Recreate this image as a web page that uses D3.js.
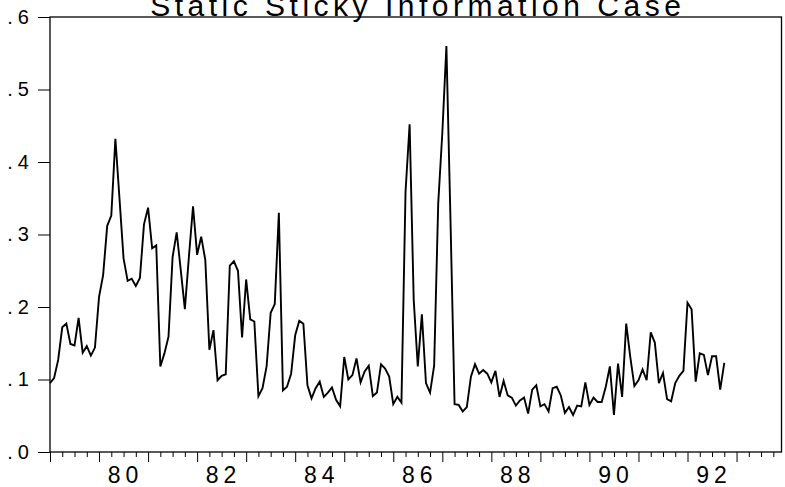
<!DOCTYPE html>
<html>
<head>
<meta charset="utf-8">
<script src="https://cdn.jsdelivr.net/npm/d3@7"></script>
<style>
    body { margin: 0; background: #fff; }
    svg text { font-family: "Liberation Sans", Arial, sans-serif; fill: #000; }
</style>
</head>
<body>
<script>
const width = 785, height = 487;
const margin = { top: 17, right: 3, bottom: 35, left: 50 };

// monthly series, 1979M01 .. 1992M10
const startYear = 1979, lastMonth = 179;
const values = [
    .095, .102, .127, .172, .177, .149, .147, .185, .137, .146, .133, .144,
    .214, .244, .312, .326, .432, .350, .267, .236, .239, .229, .240, .314,
    .337, .281, .285, .118, .136, .159, .269, .303, .251, .197, .270, .339,
    .272, .297, .265, .141, .168, .099, .105, .107, .257, .263, .250, .158,
    .238, .183, .180, .077, .088, .118, .192, .204, .330, .085, .090, .108,
    .161, .181, .177, .092, .074, .088, .097, .076, .082, .089, .072, .063,
    .131, .100, .106, .129, .096, .111, .119, .077, .082, .121, .115, .104,
    .066, .076, .068, .359, .452, .210, .118, .190, .095, .082, .119, .343,
    .440, .560, .320, .066, .065, .056, .062, .104, .121, .108, .113, .108,
    .096, .112, .076, .098, .078, .075, .064, .071, .075, .053, .086, .092,
    .063, .066, .056, .088, .090, .078, .054, .062, .051, .064, .063, .096,
    .065, .075, .069, .069, .090, .118, .051, .122, .076, .177, .131, .091,
    .099, .114, .099, .165, .151, .095, .109, .073, .070, .095, .105, .112,
    .206, .197, .097, .136, .134, .106, .132, .132, .086, .123
];
const yTicks = [0, .1, .2, .3, .4, .5, .6];
const yTickLabels = [".0", ".1", ".2", ".3", ".4", ".5", ".6"];
const xLabelYears = [1980, 1982, 1984, 1986, 1988, 1990, 1992];
const xTickLabels = ["80", "82", "84", "86", "88", "90", "92"];
const title = "Static Sticky Information Case";

const svg = d3.select("body")
    .append("svg")
    .attr("width", width)
    .attr("height", height)

const xScale = d3.scaleLinear()
    .domain([0, lastMonth])
    .range([margin.left, width - margin.right - 0.5])
const yScale = d3.scaleLinear()
    .domain([0, .6])
    .range([height - margin.bottom, margin.top])

const majorMonths = d3.range(0, lastMonth + 1, 12);
const minorMonths = d3.range(0, lastMonth + 1, 3).filter(m => m % 12 !== 0);

// x ticks: years (long) and quarters (short)
svg.append("g")
    .attr("transform", "translate(0," + (height - margin.bottom) + ")")
    .call(d3.axisBottom(xScale).tickValues(minorMonths).tickSize(5).tickFormat(""))
    .call(g => g.select(".domain").remove())
svg.append("g")
    .attr("transform", "translate(0," + (height - margin.bottom) + ")")
    .call(d3.axisBottom(xScale).tickValues(majorMonths).tickSize(10).tickFormat(""))
    .call(g => g.select(".domain").remove())

svg.selectAll(".xlabel")
    .data(xLabelYears)
    .enter()
    .append("text")
    .attr("class", "xlabel")
    .attr("x", d => xScale((d - startYear) * 12 + 6) + 2)
    .attr("y", 483)
    .attr("text-anchor", "middle")
    .style("font-size", "23px")
    .style("letter-spacing", "5px")
    .text((d, i) => xTickLabels[i])

// y ticks
svg.append("g")
    .attr("transform", "translate(" + margin.left + ",0)")
    .call(d3.axisLeft(yScale).tickValues(yTicks).tickSize(12).tickPadding(4)
        .tickFormat((d, i) => yTickLabels[i]))
    .call(g => g.select(".domain").remove())
    .call(g => g.selectAll("text")
        .attr("font-family", null)
        .attr("font-size", null)
        .attr("dy", "0.3em")
        .style("font-size", "20px")
        .style("letter-spacing", "5px"))

svg.selectAll(".tick line").attr("stroke", "#000")

// frame
svg.append("rect")
    .attr("x", xScale(0))
    .attr("y", yScale(.6))
    .attr("width", xScale(lastMonth) - xScale(0))
    .attr("height", yScale(0) - yScale(.6))
    .attr("fill", "none")
    .attr("stroke", "#000")
    .attr("stroke-width", 1.3)

const line = d3.line()
    .x((d, i) => xScale(i))
    .y(d => yScale(d))

svg.append("path")
    .datum(values)
    .attr("d", line)
    .attr("fill", "none")
    .attr("stroke", "#000")
    .attr("stroke-width", 1.9)
    .attr("stroke-linejoin", "miter")

svg.append("text")
    .attr("x", (xScale(0) + xScale(lastMonth)) / 2 + 2)
    .attr("y", 16)
    .attr("text-anchor", "middle")
    .style("font-size", "30px")
    .style("letter-spacing", "4.5px")
    .text(title)
</script>
</body>
</html>
